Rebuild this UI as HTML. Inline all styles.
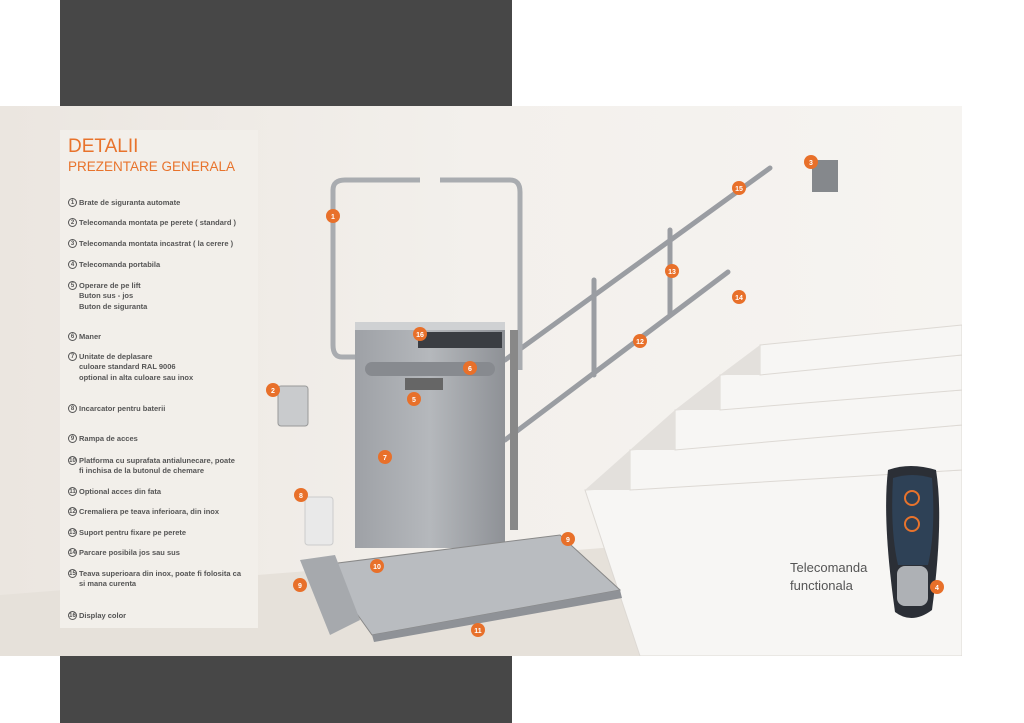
<!DOCTYPE html>
<html><head><meta charset="utf-8"><style>
body{margin:0;width:1024px;height:723px;background:#fff;position:relative;overflow:hidden;font-family:"Liberation Sans",sans-serif}
.panel{position:absolute;left:60px;top:130px;width:198px;height:498px;background:#f2efea}
.t{position:absolute;left:68px;color:#e8732c}
.it{position:absolute;left:68px;font-size:7.5px;color:#555;font-weight:bold;line-height:10.3px}
.it b{display:inline-block;width:9px;height:9px;border:1px solid #555;border-radius:50%;font-size:6px;text-align:center;line-height:9px;margin-right:2px;vertical-align:top;box-sizing:border-box}
.it span{display:inline-block;vertical-align:top}
</style></head><body>
<div style="position:absolute;left:60px;top:0;width:452px;height:106px;background:#474747"></div>
<div style="position:absolute;left:60px;top:656px;width:452px;height:67px;background:#474747"></div>
<svg style="position:absolute;left:0;top:106px" width="962" height="550" viewBox="0 106 962 550">
<defs>
<linearGradient id="wall" x1="0" y1="0" x2="1" y2="0"><stop offset="0" stop-color="#ebe6e0"/><stop offset=".5" stop-color="#f3f0ec"/><stop offset="1" stop-color="#f6f4f1"/></linearGradient>
<linearGradient id="lift" x1="0" y1="0" x2="1" y2="0"><stop offset="0" stop-color="#9ea1a6"/><stop offset=".5" stop-color="#b5b8bc"/><stop offset="1" stop-color="#8e9196"/></linearGradient>
</defs>
<rect x="0" y="106" width="962" height="550" fill="url(#wall)"/>
<polygon points="0,595 962,520 962,656 0,656" fill="#e6e1da"/>
<g fill="#f7f6f4" stroke="#ddd9d4" stroke-width="1">
<polygon points="585,490 962,470 962,656 640,656"/>
<polygon points="630,450 962,425 962,470 630,490"/>
<polygon points="675,410 962,390 962,425 675,450"/>
<polygon points="720,375 962,355 962,390 720,410"/>
<polygon points="760,345 962,325 962,355 760,375"/>
</g>
<g fill="#e3e0dc"><polygon points="585,490 630,450 630,490"/><polygon points="630,450 675,410 675,450"/><polygon points="675,410 720,375 720,410"/><polygon points="720,375 760,345 760,375"/></g>
<g stroke="#9a9da2" stroke-width="5" fill="none" stroke-linecap="round">
<line x1="505" y1="360" x2="770" y2="168"/>
<line x1="505" y1="440" x2="728" y2="272"/>
<line x1="594" y1="280" x2="594" y2="375"/>
<line x1="670" y1="230" x2="670" y2="315"/>
</g>
<path d="M355,357 L342,357 Q333,357 333,345 L333,190 Q333,180 345,180 L420,180 M440,180 L510,180 Q520,180 520,192 L520,370" stroke="#a9acb0" stroke-width="5" fill="none"/>
<rect x="510" y="330" width="8" height="200" fill="#888"/>
<rect x="355" y="322" width="150" height="226" fill="url(#lift)"/>
<rect x="355" y="322" width="150" height="8" fill="#cfd1d3"/>
<rect x="418" y="332" width="84" height="16" fill="#3a3d42"/>
<rect x="365" y="362" width="130" height="14" rx="7" fill="#878a8f"/>
<rect x="405" y="378" width="38" height="12" fill="#666"/>
<polygon points="322,565 560,535 620,590 372,635" fill="#b9bcc0" stroke="#888"/>
<polygon points="372,635 620,590 622,598 374,642" fill="#8f9297"/>
<polygon points="300,560 335,555 360,620 330,635" fill="#a6a9ad"/>
<rect x="278" y="386" width="30" height="40" rx="3" fill="#c9cbcd" stroke="#999"/>
<rect x="812" y="160" width="26" height="32" fill="#85888c"/>
<rect x="305" y="497" width="28" height="48" rx="3" fill="#e9e9e9" stroke="#ccc"/>
<path d="M888,470 Q910,462 936,470 Q944,520 932,610 Q912,625 895,612 Q882,520 888,470Z" fill="#2b2f36"/>
<path d="M893,478 Q912,472 932,478 Q936,530 928,565 L898,565 Q890,530 893,478Z" fill="#2e4156"/>
<rect x="897" y="566" width="31" height="40" rx="8" fill="#aeb1b5"/>
<g fill="none" stroke="#e8732c" stroke-width="2"><circle cx="912" cy="498" r="7"/><circle cx="912" cy="524" r="7"/></g>
<text x="790" y="572" font-family="Liberation Sans" font-size="13" fill="#555">Telecomanda</text>
<text x="790" y="590" font-family="Liberation Sans" font-size="13" fill="#555">functionala</text>
<g font-family="Liberation Sans" font-size="7" font-weight="bold" fill="#fff" text-anchor="middle">
<g fill="#e8702a">
<circle cx="333" cy="216" r="7"/><circle cx="273" cy="390" r="7"/><circle cx="811" cy="162" r="7"/><circle cx="937" cy="587" r="7"/><circle cx="414" cy="399" r="7"/><circle cx="470" cy="368" r="7"/><circle cx="385" cy="457" r="7"/><circle cx="301" cy="495" r="7"/><circle cx="568" cy="539" r="7"/><circle cx="300" cy="585" r="7"/><circle cx="377" cy="566" r="7"/><circle cx="478" cy="630" r="7"/><circle cx="640" cy="341" r="7"/><circle cx="672" cy="271" r="7"/><circle cx="739" cy="297" r="7"/><circle cx="739" cy="188" r="7"/><circle cx="420" cy="334" r="7"/>
</g>
<text x="333" y="219">1</text><text x="273" y="393">2</text><text x="811" y="165">3</text><text x="937" y="590">4</text><text x="414" y="402">5</text><text x="470" y="371">6</text><text x="385" y="460">7</text><text x="301" y="498">8</text><text x="568" y="542">9</text><text x="300" y="588">9</text><text x="377" y="569">10</text><text x="478" y="633">11</text><text x="640" y="344">12</text><text x="672" y="274">13</text><text x="739" y="300">14</text><text x="739" y="191">15</text><text x="420" y="337">16</text>
</g>
</svg>
<div class="panel"></div>
<div class="t" style="top:136px;font-size:19px">DETALII</div>
<div class="t" style="top:159px;font-size:13.5px">PREZENTARE GENERALA</div>
<div class="it" style="top:198px"><b>1</b><span>Brate de siguranta automate</span></div>
<div class="it" style="top:218px"><b>2</b><span>Telecomanda montata pe perete ( standard )</span></div>
<div class="it" style="top:239px"><b>3</b><span>Telecomanda montata incastrat ( la cerere )</span></div>
<div class="it" style="top:260px"><b>4</b><span>Telecomanda portabila</span></div>
<div class="it" style="top:281px"><b>5</b><span>Operare de pe lift<br>Buton sus - jos<br>Buton de siguranta</span></div>
<div class="it" style="top:332px"><b>6</b><span>Maner</span></div>
<div class="it" style="top:352px"><b>7</b><span>Unitate de deplasare<br>culoare standard RAL 9006<br>optional in alta culoare sau inox</span></div>
<div class="it" style="top:404px"><b>8</b><span>Incarcator pentru baterii</span></div>
<div class="it" style="top:434px"><b>9</b><span>Rampa de acces</span></div>
<div class="it" style="top:456px"><b>10</b><span>Platforma cu suprafata antialunecare, poate<br>fi inchisa de la butonul de chemare</span></div>
<div class="it" style="top:487px"><b>11</b><span>Optional acces din fata</span></div>
<div class="it" style="top:507px"><b>12</b><span>Cremaliera pe teava inferioara, din inox</span></div>
<div class="it" style="top:528px"><b>13</b><span>Suport pentru fixare pe perete</span></div>
<div class="it" style="top:548px"><b>14</b><span>Parcare posibila jos sau sus</span></div>
<div class="it" style="top:569px"><b>15</b><span>Teava superioara din inox, poate fi folosita ca<br>si mana curenta</span></div>
<div class="it" style="top:611px"><b>16</b><span>Display color</span></div>
</body></html>
